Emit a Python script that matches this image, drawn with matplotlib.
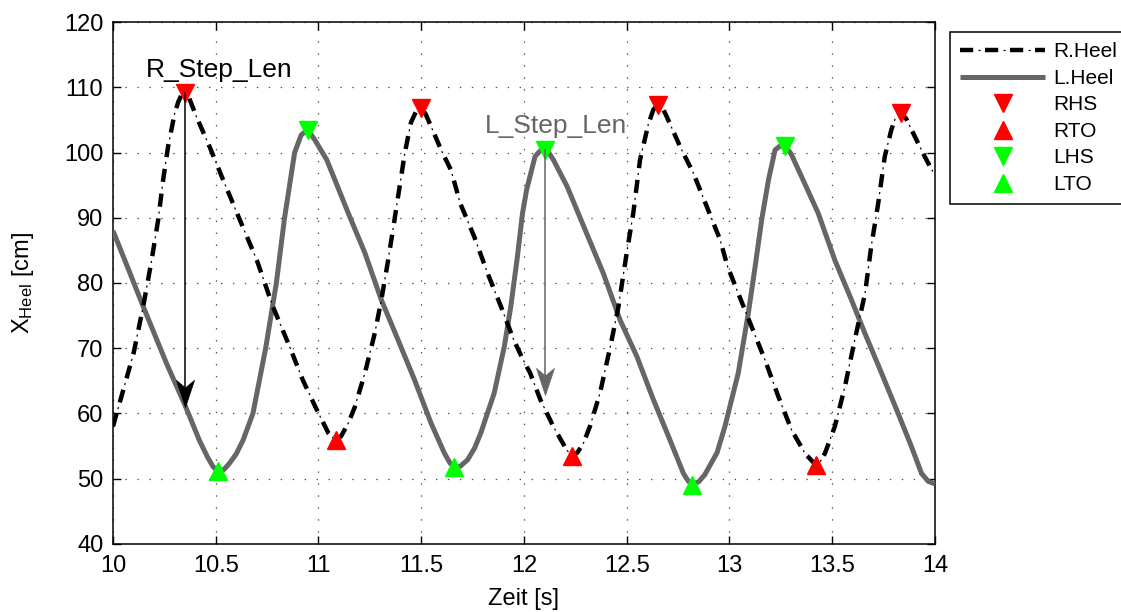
import matplotlib
matplotlib.use("Agg")
import matplotlib.pyplot as plt
from matplotlib.path import Path

plt.rcParams['font.family'] = ['Liberation Sans', 'DejaVu Sans']
plt.rcParams['mathtext.fontset'] = 'custom'
plt.rcParams['mathtext.rm'] = 'Liberation Sans'
plt.rcParams['mathtext.it'] = 'Liberation Sans:italic'
plt.rcParams['lines.scale_dashes'] = False

# ---- data ----
r_t = [10.00, 10.05, 10.10, 10.147, 10.188, 10.22, 10.244, 10.268, 10.30, 10.318, 10.333, 10.35,
       10.37, 10.406, 10.47, 10.536, 10.617, 10.70, 10.778, 10.86, 10.924, 10.985, 11.048, 11.083,
       11.11, 11.145, 11.177, 11.226, 11.274, 11.306, 11.339, 11.37, 11.395, 11.42, 11.45, 11.475,
       11.497, 11.52, 11.548, 11.597, 11.645, 11.69, 11.758, 11.823, 11.888, 11.95, 11.99, 12.03,
       12.08, 12.143, 12.208, 12.235, 12.26, 12.289, 12.321, 12.37, 12.42, 12.46, 12.50, 12.532,
       12.565, 12.605, 12.63, 12.654, 12.675, 12.695, 12.76, 12.825, 12.89, 12.955, 12.99, 13.043,
       13.108, 13.173, 13.238, 13.302, 13.367, 13.42, 13.44, 13.465, 13.513, 13.562, 13.61, 13.66,
       13.69, 13.724, 13.756, 13.788, 13.81, 13.835, 13.86, 13.886, 13.95, 14.00]
r_heel = [58.0, 63.6, 69.2, 76.4, 83.5, 89.7, 95.8, 100.9, 106.0, 107.8, 108.8, 109.1,
          108.4, 105.5, 100.9, 95.8, 89.7, 83.5, 76.4, 70.2, 65.1, 61.0, 57.0, 55.9,
          56.5, 58.5, 61.0, 66.2, 72.3, 77.4, 83.5, 89.7, 94.8, 99.9, 104.6, 106.3,
          106.8, 106.0, 104.0, 100.4, 97.3, 92.2, 87.1, 81.5, 76.4, 71.3, 68.6, 66.2,
          62.1, 58.0, 54.4, 53.4, 54.0, 55.4, 58.0, 63.1, 70.2, 76.4, 84.6, 90.7,
          98.9, 104.3, 106.6, 107.3, 106.8, 105.5, 100.9, 96.8, 91.7, 86.6, 82.6, 78.4,
          73.3, 68.2, 62.6, 57.5, 53.9, 52.1, 52.5, 53.9, 58.0, 64.1, 71.3, 78.4,
          85.6, 92.2, 99.4, 103.5, 105.5, 106.0, 105.2, 103.5, 99.4, 96.5]

l_t = [10.00, 10.07, 10.147, 10.26, 10.35, 10.42, 10.46, 10.487, 10.51, 10.54, 10.568, 10.60,
       10.633, 10.681, 10.743, 10.795, 10.835, 10.884, 10.916, 10.948, 10.983, 11.04, 11.08,
       11.145, 11.226, 11.306, 11.387, 11.468, 11.548, 11.613, 11.64, 11.66, 11.69, 11.726,
       11.76, 11.79, 11.855, 11.904, 11.936, 11.968, 11.993, 12.013, 12.054, 12.08, 12.10,
       12.12, 12.143, 12.21, 12.305, 12.386, 12.468, 12.55, 12.63, 12.711, 12.776, 12.80,
       12.82, 12.85, 12.88, 12.94, 12.978, 13.043, 13.092, 13.125, 13.157, 13.19, 13.222,
       13.25, 13.27, 13.30, 13.351, 13.432, 13.513, 13.594, 13.659, 13.74, 13.821, 13.886,
       13.935, 13.967, 14.00]
l_heel = [88.0, 82.5, 76.4, 67.7, 61.3, 55.9, 53.3, 51.85, 51.1, 51.4, 52.4, 53.8,
          55.9, 60.0, 70.0, 80.0, 90.0, 100.0, 102.7, 103.5, 101.9, 98.9, 95.8,
          90.7, 84.6, 77.4, 71.3, 65.1, 58.5, 53.9, 52.4, 51.8, 51.9, 52.9,
          54.7, 57.0, 63.1, 70.2, 76.4, 84.0, 90.7, 94.3, 99.4, 100.3, 100.5,
          100.0, 98.9, 94.8, 87.6, 81.5, 74.3, 68.7, 62.1, 55.9, 50.8, 49.6,
          49.2, 49.5, 50.6, 54.0, 58.0, 66.2, 75.4, 82.5, 89.7, 95.8, 100.4,
          101.1, 101.1, 99.8, 96.3, 90.7, 83.5, 77.4, 72.3, 66.2, 60.0, 54.9,
          50.8, 49.6, 49.2]

rhs_t = [10.35, 11.497, 12.654, 13.835]
rhs_v = [109.1, 106.8, 107.3, 106.0]
rto_t = [11.083, 12.235, 13.42]
rto_v = [55.9, 53.4, 52.1]
lhs_t = [10.948, 12.10, 13.27]
lhs_v = [103.5, 100.4, 101.0]
lto_t = [10.51, 11.66, 12.82]
lto_v = [51.1, 51.8, 49.0]

r_step = (10.35, 109.1, 61.0)
l_step = (12.10, 100.4, 62.8)

xticks = [10, 10.5, 11, 11.5, 12, 12.5, 13, 13.5, 14]
xticklabels = ['10', '10.5', '11', '11.5', '12', '12.5', '13', '13.5', '14']
yticks = [40, 50, 60, 70, 80, 90, 100, 110, 120]

# ---- figure ----
fig = plt.figure(figsize=(11.21, 6.12), dpi=100)
ax = fig.add_axes([0.1008, 0.1113, 0.7332, 0.8526])

gray = '#666666'
lh, = ax.plot(l_t, l_heel, color=gray, lw=3.6, solid_capstyle='butt',
              solid_joinstyle='round', zorder=3)
r1, = ax.plot(r_t, r_heel, color='black', lw=3.2, dashes=(9.5, 8.5),
              dash_capstyle='butt', zorder=4)
r2, = ax.plot(r_t, r_heel, color='black', lw=0.9, linestyle=(5, (1.5, 16.5)),
              dash_capstyle='butt', zorder=4)

ms = 13.5
m1, = ax.plot(rhs_t, rhs_v, 'v', color='#ff0000', ms=ms, mec='#ff0000', ls='none', zorder=5)
m2, = ax.plot(rto_t, rto_v, '^', color='#ff0000', ms=ms, mec='#ff0000', ls='none', zorder=5)
m3, = ax.plot(lhs_t, lhs_v, 'v', color='#00ff00', ms=ms, mec='#00ff00', ls='none', zorder=5)
m4, = ax.plot(lto_t, lto_v, '^', color='#00ff00', ms=ms, mec='#00ff00', ls='none', zorder=5)

# notched arrow head (tip at origin, pointing down)
head = Path([(0, 0), (-0.667, 2.0), (0, 1.45), (0.667, 2.0), (0, 0)],
            [Path.MOVETO, Path.LINETO, Path.LINETO, Path.LINETO, Path.CLOSEPOLY])

for (xs, y0, y1), col in ((r_step, 'black'), (l_step, gray)):
    ax.plot([xs, xs], [y0, y1 + 3.0], color=col, lw=1.1, zorder=6)
    ax.plot([xs], [y1], marker=head, ms=39, color=col, mec=col, mew=0.5,
            ls='none', zorder=6)

ax.text(10.158, 111.6, 'R_Step_Len', fontsize=19, color='black', ha='left', va='baseline')
ax.text(11.81, 102.95, 'L_Step_Len', fontsize=19, color=gray, ha='left', va='baseline')

ax.set_xlim(10, 14)
ax.set_ylim(40, 120)
ax.set_xticks(xticks)
ax.set_xticklabels(xticklabels)
ax.set_yticks(yticks)
ax.tick_params(direction='in', top=True, right=True, length=6, width=1.0,
               labelsize=17, pad=8, colors='black')
ax.tick_params(axis='y', pad=7)
for s in ax.spines.values():
    s.set_linewidth(1.1)
ax.grid(True, color='0.3', lw=0.9, linestyle=(0, (1.0, 7.6)))
ax.set_axisbelow(True)

ax.set_xlabel('Zeit [s]', fontsize=17, labelpad=8)
ax.set_ylabel(r'X$_{\mathrm{Heel}}$ [cm]', fontsize=17, labelpad=20)

leg = fig.legend([(r1, r2), lh, m1, m2, m3, m4],
                 ['R.Heel', 'L.Heel', 'RHS', 'RTO', 'LHS', 'LTO'],
                 loc='upper left', bbox_to_anchor=(950 / 1121, 1 - 32 / 612),
                 borderaxespad=0, fontsize=15, handlelength=4.05, handletextpad=0.42,
                 labelspacing=0.36, borderpad=0.5, numpoints=1, fancybox=False,
                 framealpha=1, edgecolor='black')
leg.get_frame().set_linewidth(1.1)

fig.savefig('out.png', dpi=100)
